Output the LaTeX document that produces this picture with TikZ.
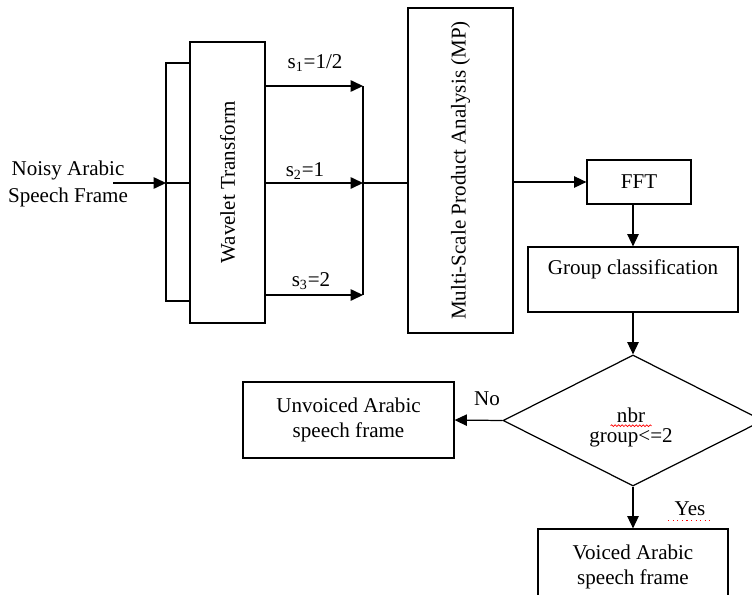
\documentclass[tikz,border=0pt]{standalone}
\usepackage{fontspec}
\setmainfont{Liberation Serif}
\usepackage{graphicx}
\usetikzlibrary{arrows.meta, calc, positioning, shapes.geometric, decorations.pathmorphing}
\newcommand{\px}{0.57pt}

\begin{document}
\begin{tikzpicture}[
    x=\px, y=-\px,
    line width=0.7pt,
    >={Triangle[length=7pt,width=6.5pt]},
    every node/.style={font=\fontsize{12}{14.5}\selectfont},
    blk/.style={draw, inner sep=0pt, align=center},
]
\useasboundingbox (0,0) rectangle (752,594);
\clip (0,0) rectangle (752,594);

% processing blocks
\node[blk, minimum width=75*\px, minimum height=281*\px] (wt) at (227.5,182.5) {\rotatebox{90}{Wavelet Transform}};
\node[blk, minimum width=105*\px, minimum height=325*\px] (mp) at (460.5,170.5) {\rotatebox{90}{Multi-Scale Product Analysis (MP)}};
\node[blk, minimum width=104*\px, minimum height=44*\px] (fft) at (639,182) {FFT};
\node[blk, minimum width=210*\px, minimum height=65*\px] (grp) at (633,279.5) {Group classification\\~};
\node[blk, diamond, minimum width=260*\px, minimum height=131*\px] (dec) at (633,420.5) {};
\node[blk, minimum width=211*\px, minimum height=76*\px] (unv) at (348.5,420) {Unvoiced Arabic\\speech frame};
\node[blk, minimum width=190*\px, minimum height=76*\px] (voi) at (633,567) {Voiced Arabic\\speech frame};

% free texts
\node[align=center, font=\fontsize{12}{15.5}\selectfont] (noisy) at (68,184) {Noisy Arabic\\Speech Frame};
\node (nbr) at (631,415) {nbr};
\node (cnd) at (631,438) {group<=2};
\node (no) at (487,399) {No};
\node (yes) at (690,509) {Yes};
\draw[red, line width=0.4pt, decorate, decoration={snake, amplitude=0.5pt, segment length=2pt}]
   ([yshift=-2pt]nbr.base west) -- ([yshift=-2pt]nbr.base east);
\draw[red, dotted, line width=0.6pt] ([yshift=-2.5pt]yes.base west) -- ([yshift=-2.5pt]yes.base east);

% input and bracket round the transform
\coordinate (in) at (113,183);
\coordinate (jn) at (166,183);
\coordinate (bt) at (166,63);
\coordinate (bb) at (166,301);
\draw[->] (in) -- (jn);
\draw (jn) -- (wt.west |- jn);
\draw (wt.west |- bt) -- (bt) -- (bb) -- (wt.west |- bb);

% three scales into the bus
\foreach \i/\yy/\lx/\ly/\txt in {1/86/315/63/{1/2}, 2/183/305/171/1, 3/295/311/281/2}{
  \coordinate (b\i) at (363,\yy);
  \draw[->] (wt.east |- b\i) -- (b\i);
  \node (s\i) at (\lx,\ly) {s\textsubscript{\i}=\txt};
}
\draw (b1) -- (b3);
\draw (b2) -- (mp.west |- b2);

% decision chain
\draw[->] (mp.east |- fft) -- (fft.west);
\draw[->] (grp.north |- fft.south) -- (grp.north);
\draw[->] (grp.south) -- (dec.north);
\draw[->] (dec.west) -- (unv.east);
\draw[->] (dec.south) -- (voi.north);
\end{tikzpicture}
\end{document}
